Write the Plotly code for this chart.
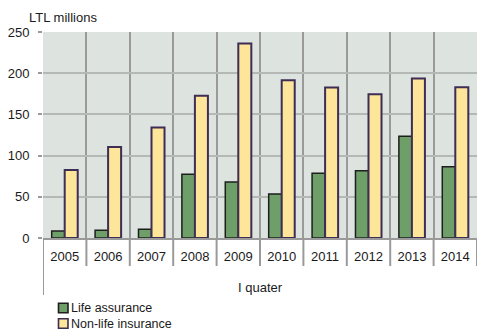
import plotly.graph_objects as go

years = ["2005", "2006", "2007", "2008", "2009", "2010", "2011", "2012", "2013", "2014"]
life = [8.5, 9.3, 10.5, 77.5, 68, 53.5, 78.5, 81.5, 123.5, 86.5]
nonlife = [82.5, 110.5, 134, 172.5, 236, 191.5, 182.5, 174.5, 193.5, 183]
y_ticks = [0, 50, 100, 150, 200, 250]
series_names = ["Life assurance", "Non-life insurance"]
fills = ["#6e9f69", "#fde599"]
edges = ["#1e1e1e", "#3e2d55"]

FONT = "Liberation Sans, Arial, sans-serif"
W, H = 477, 331
ML, MR, MT, MB = 43, 0, 32, 93
PW, PH = W - ML - MR, H - MT - MB

fig = go.Figure()
for name, vals, fc, ec, lw in zip(series_names, [life, nonlife], fills, edges, [1.5, 2]):
    fig.add_trace(go.Bar(x=years, y=vals, name=name, showlegend=False,
                         marker=dict(color=fc, line=dict(color=ec, width=lw))))


def px_x(p):
    return (p - ML) / PW


def px_y(p):
    return (H - MB - p) / PH


shapes = []
for i in range(len(years) + 1):
    shapes.append(dict(type="line", xref="x", yref="paper", x0=i - 0.5, x1=i - 0.5,
                       y0=0, y1=px_y(266), line=dict(color="#9a9a9a", width=2)))
shapes.append(dict(type="line", xref="x", yref="paper", x0=-0.5, x1=-0.5,
                   y0=0, y1=px_y(295), line=dict(color="#9a9a9a", width=2)))

annotations = [
    dict(text="LTL millions", xref="paper", yref="paper", x=px_x(27), y=px_y(17),
         xanchor="left", yanchor="middle", showarrow=False, font=dict(size=13)),
    dict(text="I quater", xref="paper", yref="paper", x=px_x(260), y=px_y(287),
         xanchor="center", yanchor="middle", showarrow=False, font=dict(size=13)),
]
# manual legend
for k, (name, fc, ec) in enumerate(zip(series_names, fills, edges)):
    cy = 308 + 15.5 * k
    shapes.append(dict(type="rect", xref="paper", yref="paper",
                       x0=px_x(58.5), x1=px_x(68), y0=px_y(cy - 4.7), y1=px_y(cy + 4.7),
                       fillcolor=fc, line=dict(color=ec, width=1.6)))
    annotations.append(dict(text=name, xref="paper", yref="paper", x=px_x(69), y=px_y(cy),
                            xanchor="left", yanchor="middle", showarrow=False,
                            font=dict(size=12.5)))

fig.update_layout(
    width=W, height=H,
    margin=dict(l=ML, r=MR, t=MT, b=MB),
    paper_bgcolor="white", plot_bgcolor="#dde4df",
    barmode="group", bargap=0.4, bargroupgap=0,
    font=dict(family=FONT, size=13, color="#1a1a1a"),
    showlegend=False,
    shapes=shapes,
    annotations=annotations,
)
fig.update_xaxes(type="category", tickson="boundaries", showgrid=True,
                 gridcolor="#9a9a9a", gridwidth=2, ticks="", ticklabelstandoff=5,
                 showline=True, linecolor="#9a9a9a", linewidth=2, range=[-0.5, 9.5],
                 tickfont=dict(size=13))
fig.update_yaxes(range=[0, 250], tickvals=y_ticks, showgrid=True, gridcolor="#b5b9b6",
                 gridwidth=1.5, ticks="outside", ticklen=4, tickcolor="#9a9a9a",
                 tickwidth=1.5, zeroline=False, showline=False, ticklabelstandoff=6,
                 tickfont=dict(size=13))

fig.write_html("out.html")
